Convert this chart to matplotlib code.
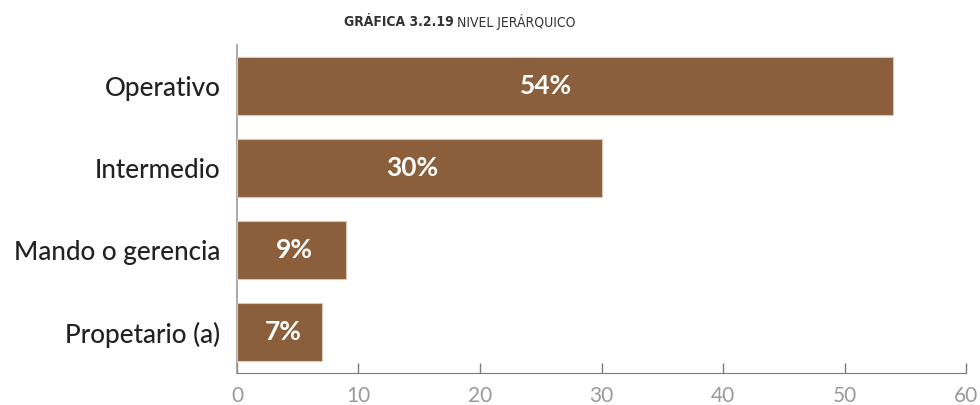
import matplotlib.pyplot as plt

# Data
categorias = ["Operativo", "Intermedio", "Mando o gerencia", "Propetario (a)"]
porcentajes = [54, 30, 9, 7]
etiquetas = ["54%", "30%", "9%", "7%"]
xticks = [0, 10, 20, 30, 40, 50, 60]

color_barra = "#8B5E3C"
gris = "#7a7a7a"

fig = plt.figure(figsize=(9.8, 4.05), dpi=100)
ax = fig.add_axes([0.2418, 0.079, 0.744, 0.81])

y = list(range(len(categorias)))
ax.barh(y, porcentajes, height=0.71, color=color_barra,
        edgecolor="#d9c7b5", linewidth=0.8, zorder=3)

# percent labels, slightly left of the bar middle
for yi, v, lab in zip(y, porcentajes, etiquetas):
    ax.text(0.46 * v + 0.6, yi, lab, ha="center", va="center", color="white",
            fontsize=19, fontweight="bold", family="Lato", zorder=4)

ax.set_ylim(len(categorias) - 0.5, -0.5)
ax.set_xlim(0, 60)
ax.set_yticks(y)
ax.set_yticklabels(categorias, fontsize=18.8, family="Lato",
                   fontweight="medium", color="#222222")
ax.tick_params(axis="y", length=0, pad=12)

ax.set_xticks(xticks)
ax.set_xticklabels([str(t) for t in xticks], fontsize=15, family="Lato",
                   color="#9a9a9a")
ax.tick_params(axis="x", direction="in", length=7, color=gris, width=1, pad=9)

for s in ["top", "right"]:
    ax.spines[s].set_visible(False)
ax.spines["left"].set_color("#999999")
ax.spines["bottom"].set_color(gris)
ax.spines["left"].set_linewidth(1.2)

# Title in two weights
fig.text(0.463, 0.945, "GRÁFICA 3.2.19", ha="right", va="center",
         fontsize=10, fontweight="bold", family="DejaVu Sans",
         fontstretch="condensed", color="#333333")
fig.text(0.466, 0.945, "NIVEL JERÁRQUICO", ha="left", va="center",
         fontsize=10, family="DejaVu Sans", fontstretch="condensed",
         color="#333333")

fig.savefig("out.png", dpi=100)
